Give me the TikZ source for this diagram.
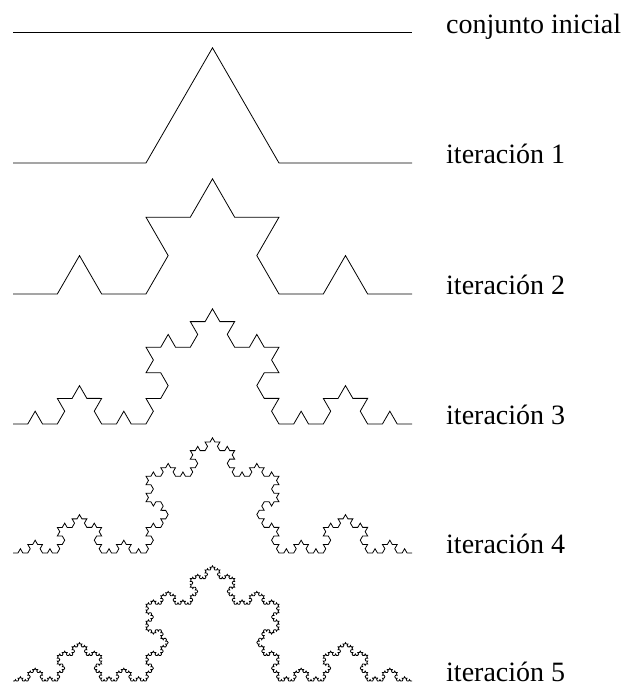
\documentclass[tikz,border=0pt]{standalone}
\usepackage{fontspec}
\setmainfont{Liberation Serif}
\usetikzlibrary{decorations.fractals}

\begin{document}
\begin{tikzpicture}[
    x=1pt, y=1pt,
    curve/.style={line width=0.8pt, line join=miter,
                  decoration={Koch snowflake}},
    lbl/.style={anchor=base west, inner sep=0pt,
                font=\fontsize{28}{30}\selectfont},
  ]
  \useasboundingbox (0,0) rectangle (629,686);

  % End points of each row
  \foreach \n/\y in {0/654, 1/523, 2/392, 3/262, 4/133, 5/5} {
    \coordinate (s\n) at (13,\y);
    \coordinate (e\n) at (412,\y);
  }

  % Initial set and iterations
  \draw[curve] (s0) -- (e0);
  \draw[curve] decorate{ (s1) -- (e1) };
  \draw[curve] decorate{ decorate{ (s2) -- (e2) } };
  \draw[curve] decorate{ decorate{ decorate{ (s3) -- (e3) } } };
  \draw[curve] decorate{ decorate{ decorate{ decorate{ (s4) -- (e4) } } } };
  \draw[curve] decorate{ decorate{ decorate{ decorate{ decorate{ (s5) -- (e5) } } } } };

  % Labels
  \node[lbl] (l0) at (446,652) {conjunto inicial};
  \foreach \n/\y in {1/522, 2/391, 3/261, 4/132, 5/5}
    \node[lbl] (l\n) at (446,\y) {iteración \n};
\end{tikzpicture}
\end{document}
